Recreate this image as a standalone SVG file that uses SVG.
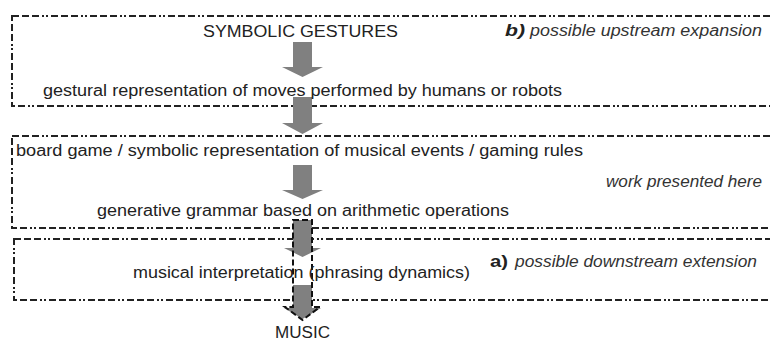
<svg xmlns="http://www.w3.org/2000/svg" width="770" height="340" viewBox="0 0 770 340">
<style>
.bg{fill:#ffffff}
.box{fill:none;stroke:#222;stroke-width:2;stroke-dasharray:7 3 7 3 7 3 2 2 2 3}
.arr{fill:#808080;stroke:none}
.sel{fill:none;stroke:#111;stroke-width:2;stroke-dasharray:6 3}
.t{font-family:"Liberation Sans",Arial,sans-serif;font-size:16px;fill:#222}
.it{font-family:"Liberation Sans",Arial,sans-serif;font-size:16px;font-style:italic;fill:#333}
.lab{font-family:"Liberation Sans",Arial,sans-serif;font-size:17px;font-weight:bold;fill:#222}
</style>
<rect class="bg" x="0" y="0" width="770" height="340"/>
<g id="box-upstream">
<rect class="box" x="12" y="16" width="800" height="90"/>
<text class="lab" x="505" y="36" font-style="italic" textLength="20" lengthAdjust="spacingAndGlyphs">b)</text>
<text class="it" x="530" y="36" textLength="232" lengthAdjust="spacingAndGlyphs">possible upstream expansion</text>
</g>
<g id="box-work">
<rect class="box" x="12" y="136" width="800" height="92"/>
<text class="it" x="606" y="187" textLength="156" lengthAdjust="spacingAndGlyphs">work presented here</text>
</g>
<g id="box-downstream">
<rect class="box" x="14" y="239" width="800" height="61"/>
<text class="lab" x="490" y="267" textLength="18" lengthAdjust="spacingAndGlyphs">a)</text>
<text class="it" x="515" y="267" textLength="242" lengthAdjust="spacingAndGlyphs">possible downstream extension</text>
</g>
<g id="connectors">
<path class="arr" d="M293,42 H312 V67 H323 L302.5,77 L282,67 H293 Z"/>
<path class="arr" d="M293,97 H312 V123 H323 L302.5,134 L282,123 H293 Z"/>
<path class="arr" d="M293,165 H312 V190 H323 L302.5,199 L282,190 H293 Z"/>
<path class="arr" d="M293,220 H312 V248 H321 L302.5,257 L284,248 H293 Z"/>
<path class="arr" d="M293,285 H312 V308 H321 L302.5,319 L284,308 H293 Z"/>
<path class="sel" d="M293,220 H312 V307 H320 L302.5,320 L285,307 H293 Z"/>
</g>
<g id="node-symbolic-gestures">
<text class="t" x="203" y="37" textLength="195" lengthAdjust="spacingAndGlyphs">SYMBOLIC GESTURES</text>
</g>
<g id="node-gestural">
<text class="t" x="43" y="96" textLength="519" lengthAdjust="spacingAndGlyphs">gestural representation of moves performed by humans or robots</text>
</g>
<g id="node-board-game">
<text class="t" x="16" y="156" textLength="567" lengthAdjust="spacingAndGlyphs">board game / symbolic representation of musical events / gaming rules</text>
</g>
<g id="node-grammar">
<text class="t" x="97" y="216" textLength="412" lengthAdjust="spacingAndGlyphs">generative grammar based on arithmetic operations</text>
</g>
<g id="node-interpretation">
<text class="t" x="133" y="278" textLength="337" lengthAdjust="spacingAndGlyphs">musical interpretation (phrasing dynamics)</text>
</g>
<g id="node-music">
<text class="t" x="275" y="338" textLength="55" lengthAdjust="spacingAndGlyphs">MUSIC</text>
</g>
</svg>
